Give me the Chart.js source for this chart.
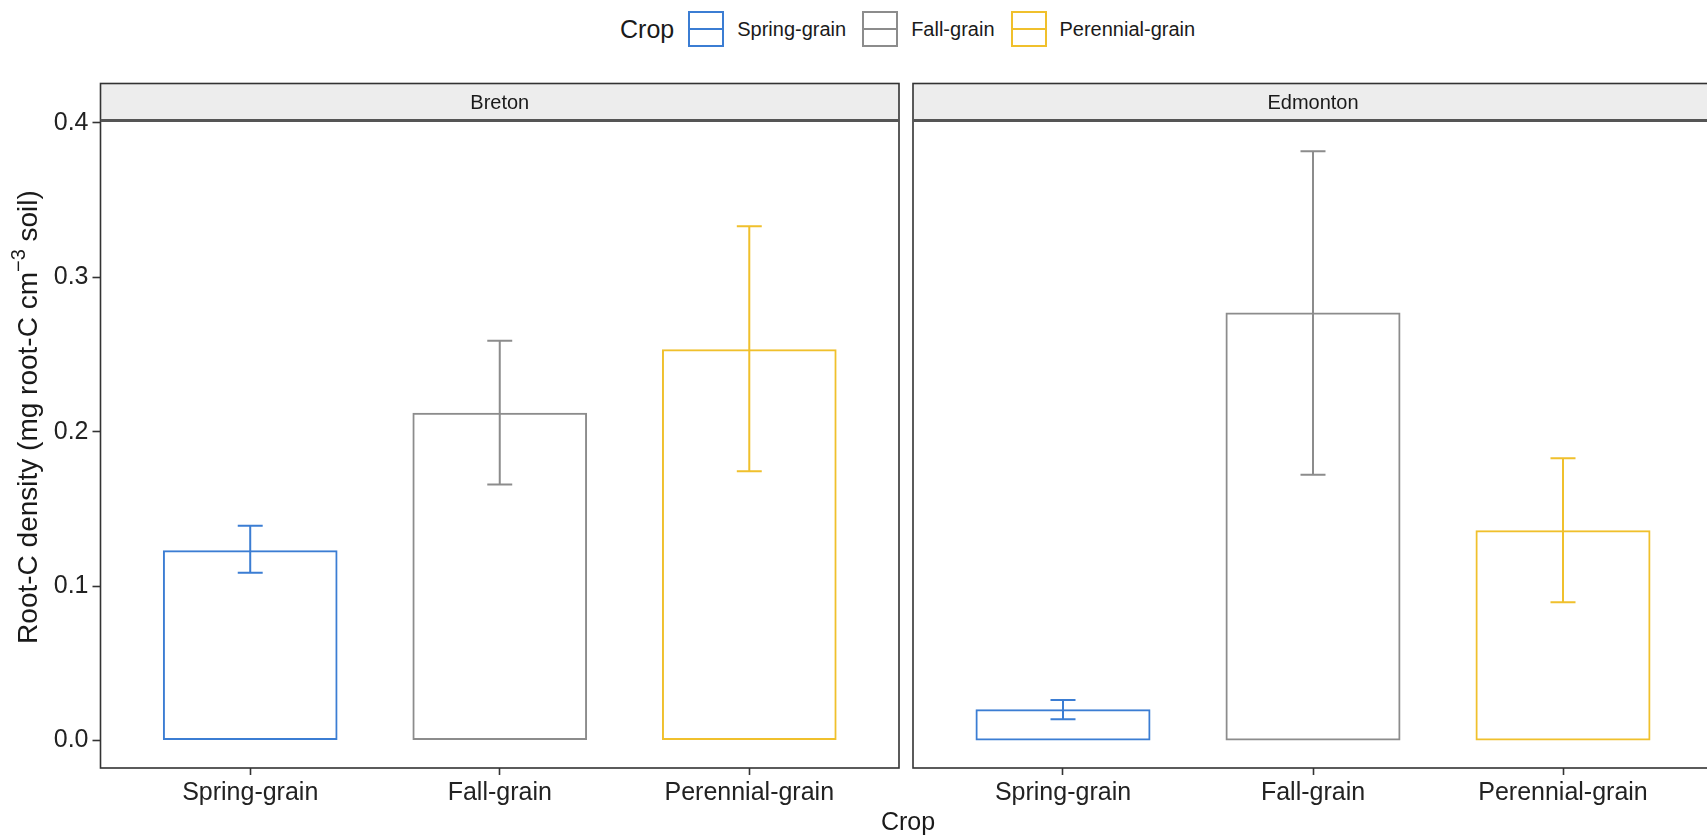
<!DOCTYPE html>
<html>
<head>
<meta charset="utf-8">
<script src="https://cdn.jsdelivr.net/npm/chart.js@4"></script>
<style>
  html, body { margin: 0; padding: 0; background: #fff; }
  body { width: 1707px; height: 838px; overflow: hidden; position: relative; font-family: "Liberation Sans", Arial, sans-serif; color: #1a1a1a; }
  canvas { position: absolute; top: 0; }
  #c1 { left: 0; }
  #c2 { left: 906px; }
  .legend { position: absolute; left: 620px; top: 11px; height: 36px; display: flex; align-items: center; }
  .legend .title { font-size: 25px; margin-right: 14px; }
  .legend .key { width: 32px; height: 32px; border: 2px solid; position: relative; margin-right: 13px; }
  .legend .key::after { content: ''; position: absolute; left: 0; right: 0; top: 15px; height: 2px; background: currentColor; }
  .legend .lab { font-size: 20px; margin-right: 16px; }
  .xtitle { position: absolute; left: 0; width: 1816px; top: 806px; text-align: center; font-size: 25px; line-height: 30px; }
</style>
</head>
<body>
<div class="legend" id="legend"><span class="title">Crop</span></div>
<canvas id="c1" width="906" height="838"></canvas>
<canvas id="c2" width="820" height="838"></canvas>
<div class="xtitle">Crop</div>

<script>
// data
const CROPS = ['Spring-grain', 'Fall-grain', 'Perennial-grain'];
const COLORS = ['#3b7dd3', '#8c8c8c', '#f0c02c'];
const SITES = ['Breton', 'Edmonton'];

const BRETON_MEAN = [0.1232, 0.2123, 0.2533];
const BRETON_LOW  = [0.1086, 0.1658, 0.1743];
const BRETON_HIGH = [0.1390, 0.2588, 0.3330];

const EDMONTON_MEAN = [0.0202, 0.2772, 0.1362];
const EDMONTON_LOW  = [0.0138, 0.1721, 0.0896];
const EDMONTON_HIGH = [0.0263, 0.3815, 0.1827];

const Y_TICKS = [0, 0.1, 0.2, 0.3, 0.4];
const Y_MIN = -0.0178, Y_MAX = 0.4005;

Chart.defaults.font.family = '"Liberation Sans", Arial, sans-serif';
Chart.defaults.color = '#222';

// legend (html)
const legend = document.getElementById('legend');
CROPS.forEach((c, i) => {
  const k = document.createElement('span');
  k.className = 'key';
  k.style.color = COLORS[i];
  k.style.borderColor = COLORS[i];
  const t = document.createElement('span');
  t.className = 'lab';
  t.textContent = c;
  legend.appendChild(k);
  legend.appendChild(t);
});

const STRIP_H = 38.5;

// strip, panel border, error bars
const panelPlugin = {
  id: 'panel',
  beforeDraw(chart, args, opts) {
    const a = chart.chartArea, ctx = chart.ctx;
    const top = a.top - STRIP_H;
    ctx.save();
    ctx.fillStyle = '#ededed';
    ctx.fillRect(a.left, top, a.right - a.left, STRIP_H);
    ctx.fillStyle = '#1a1a1a';
    ctx.font = '20px "Liberation Sans", Arial, sans-serif';
    ctx.textAlign = 'center';
    ctx.textBaseline = 'middle';
    ctx.fillText(opts.label, (a.left + a.right) / 2, top + STRIP_H / 2 + 1);
    ctx.restore();
  },
  afterDatasetsDraw(chart, args, opts) {
    const ctx = chart.ctx, xs = chart.scales.x, ys = chart.scales.y;
    ctx.save();
    ctx.lineWidth = 2;
    opts.low.forEach((lo, i) => {
      const x = xs.getPixelForValue(i + 1);
      const half = (xs.getPixelForValue(i + 1.05) - xs.getPixelForValue(i + 0.95)) / 2;
      const y1 = ys.getPixelForValue(lo), y2 = ys.getPixelForValue(opts.high[i]);
      ctx.strokeStyle = COLORS[i];
      ctx.beginPath();
      ctx.moveTo(x, y1); ctx.lineTo(x, y2);
      ctx.moveTo(x - half, y1); ctx.lineTo(x + half, y1);
      ctx.moveTo(x - half, y2); ctx.lineTo(x + half, y2);
      ctx.stroke();
    });
    ctx.restore();
  },
  afterDraw(chart) {
    const a = chart.chartArea, ctx = chart.ctx;
    const top = a.top - STRIP_H;
    ctx.save();
    ctx.strokeStyle = '#333';
    ctx.lineWidth = 1.6;
    ctx.strokeRect(a.left, top, a.right - a.left, a.bottom - top);
    ctx.strokeStyle = '#555';
    ctx.lineWidth = 3;
    ctx.beginPath();
    ctx.moveTo(a.left, a.top - 1.5); ctx.lineTo(a.right, a.top - 1.5);
    ctx.stroke();
    ctx.restore();
  }
};

// y axis title with superscript
const yTitlePlugin = {
  id: 'ytitle',
  afterDraw(chart) {
    const ctx = chart.ctx;
    const parts = [
      ['Root-C density (mg root-C cm', 28, 0],
      ['\u22123', 20, -12],
      [' soil)', 28, 0]
    ];
    ctx.save();
    ctx.translate(37, 417);
    ctx.rotate(-Math.PI / 2);
    ctx.fillStyle = '#1a1a1a';
    ctx.textBaseline = 'alphabetic';
    let total = 0;
    parts.forEach(p => { ctx.font = p[1] + 'px "Liberation Sans", Arial, sans-serif'; total += ctx.measureText(p[0]).width; });
    let x = -total / 2;
    parts.forEach(p => {
      ctx.font = p[1] + 'px "Liberation Sans", Arial, sans-serif';
      ctx.fillText(p[0], x, p[2]);
      x += ctx.measureText(p[0]).width;
    });
    ctx.restore();
  }
};

function makePanel(canvasId, site, mean, low, high, showY, pad) {
  const ctx = document.getElementById(canvasId).getContext('2d');
  return new Chart(ctx, {
    type: 'bar',
    data: {
      datasets: [{
        data: CROPS.map((c, i) => ({ x: i + 1, y: mean[i] })),
        backgroundColor: 'rgba(255,255,255,0)',
        borderColor: COLORS,
        borderWidth: 2,
        borderSkipped: false,
        barPercentage: 0.7,
        categoryPercentage: 1
      }]
    },
    options: {
      responsive: false,
      animation: false,
      devicePixelRatio: 1,
      layout: { padding: pad },
      plugins: {
        legend: { display: false },
        tooltip: { enabled: false },
        panel: { label: site, low: low, high: high }
      },
      scales: {
        x: {
          type: 'linear',
          min: 0.4, max: 3.6,
          offset: false,
          grid: { drawOnChartArea: false, drawTicks: true, tickLength: 7, tickColor: '#333', tickWidth: 1.6, offset: false },
          border: { display: false },
          afterBuildTicks: s => { s.ticks = CROPS.map((c, i) => ({ value: i + 1 })); },
          afterFit: s => { s.height = 70; },
          ticks: {
            autoSkip: false, maxRotation: 0, padding: 3,
            font: { size: 25 }, color: '#222',
            callback: v => CROPS[v - 1]
          }
        },
        y: {
          display: showY,
          min: Y_MIN, max: Y_MAX,
          grid: { drawOnChartArea: false, drawTicks: true, tickLength: 8, tickColor: '#333', tickWidth: 1.6 },
          border: { display: false },
          afterBuildTicks: s => { s.ticks = Y_TICKS.map(v => ({ value: v })); },
          afterFit: s => { if (showY) s.width = 100.5; },
          ticks: {
            padding: 4,
            font: { size: 25 }, color: '#222',
            callback: v => v.toFixed(1)
          }
        }
      }
    },
    plugins: showY ? [panelPlugin, yTitlePlugin] : [panelPlugin]
  });
}

makePanel('c1', SITES[0], BRETON_MEAN, BRETON_LOW, BRETON_HIGH, true, { top: 122, right: 7, left: 0, bottom: 0 });
makePanel('c2', SITES[1], EDMONTON_MEAN, EDMONTON_LOW, EDMONTON_HIGH, false, { top: 122, right: 13, left: 7, bottom: 0 });
</script>
</body>
</html>
